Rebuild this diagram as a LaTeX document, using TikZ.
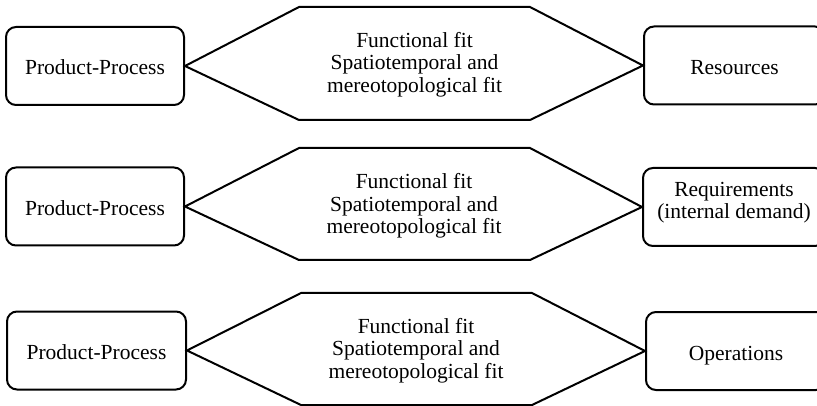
\documentclass[tikz,border=0pt]{standalone}
\usepackage{fontspec}
\setmainfont{Liberation Serif}
\begin{document}
\begin{tikzpicture}[x=1pt,y=-1pt,
  font=\fontsize{21.5}{22.3}\selectfont,
  box/.style={draw, line width=2pt, rounded corners=10pt,
    minimum width=178pt, minimum height=78pt, align=center, inner sep=0pt,
    text height=18pt, text depth=0pt},
  plainbox/.style={draw, line width=2pt, rounded corners=10pt,
    minimum width=178pt, minimum height=78pt, inner sep=0pt},
  fitlabel/.style={align=center, inner sep=0pt},
  hexline/.style={line width=2pt, line join=miter}]
\useasboundingbox (0,0) rectangle (817,406);
\clip (0,0) rectangle (817,406);

% Row 1: product-process vs. resources
\node[box] (pp1) at (95,66) {Product-Process};
\node[box, minimum width=181pt] (res) at (734.5,65.5) {Resources};
\node[fitlabel] (fit1) at (414.5,64.5) {Functional fit\\Spatiotemporal and\\mereotopological fit};
\coordinate (h1tl) at (299,7);
\coordinate (h1tr) at (530,7);
\coordinate (h1br) at (530,120);
\coordinate (h1bl) at (299,120);
\draw[hexline] (pp1.east) -- (h1tl) -- (h1tr) -- (res.west) -- (h1br) -- (h1bl) -- cycle;

% Row 2: product-process vs. requirements
\node[box] (pp2) at (95,206.5) {Product-Process};
\node[plainbox, minimum width=182pt] (req) at (734,207) {};
\node[fitlabel] (reqtext) at (734,203) {Requirements\\(internal demand)};
\node[fitlabel] (fit2) at (414,206) {Functional fit\\Spatiotemporal and\\mereotopological fit};
\coordinate (h2tl) at (299,148);
\coordinate (h2tr) at (530,148);
\coordinate (h2br) at (530,260);
\coordinate (h2bl) at (299,260);
\draw[hexline] (pp2.east) -- (h2tl) -- (h2tr) -- (req.west) -- (h2br) -- (h2bl) -- cycle;

% Row 3: product-process vs. operations
\node[box, minimum width=179pt] (pp3) at (96.5,350.5) {Product-Process};
\node[box, minimum width=180pt] (ops) at (736,351) {Operations};
\node[fitlabel] (fit3) at (416,350.5) {Functional fit\\Spatiotemporal and\\mereotopological fit};
\coordinate (h3tl) at (301,293);
\coordinate (h3tr) at (532,293);
\coordinate (h3br) at (532,405);
\coordinate (h3bl) at (301,405);
\draw[hexline] (pp3.east) -- (h3tl) -- (h3tr) -- (ops.west) -- (h3br) -- (h3bl) -- cycle;
\end{tikzpicture}
\end{document}
